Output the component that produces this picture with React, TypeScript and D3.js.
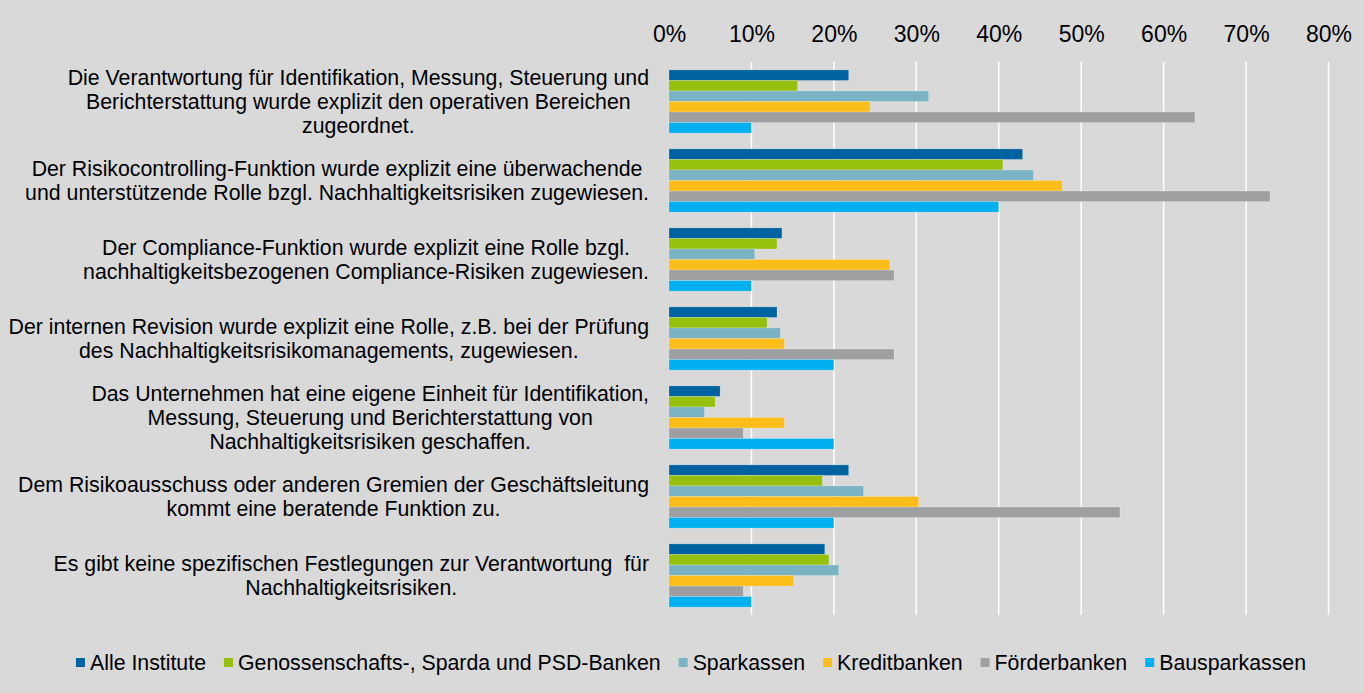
import React, { useEffect, useRef } from 'react';
import { axisTop, scaleBand, scaleLinear, select } from 'd3';

const categoryLines: string[][] = [
  ['Die Verantwortung für Identifikation, Messung, Steuerung und', 'Berichterstattung wurde explizit den operativen Bereichen', 'zugeordnet.'],
  ['Der Risikocontrolling-Funktion wurde explizit eine überwachende', 'und unterstützende Rolle bzgl. Nachhaltigkeitsrisiken zugewiesen.'],
  ['Der Compliance-Funktion wurde explizit eine Rolle bzgl.', 'nachhaltigkeitsbezogenen Compliance-Risiken zugewiesen.'],
  ['Der internen Revision wurde explizit eine Rolle, z.B. bei der Prüfung', 'des Nachhaltigkeitsrisikomanagements, zugewiesen.'],
  ['Das Unternehmen hat eine eigene Einheit für Identifikation,', 'Messung, Steuerung und Berichterstattung von', 'Nachhaltigkeitsrisiken geschaffen.'],
  ['Dem Risikoausschuss oder anderen Gremien der Geschäftsleitung', 'kommt eine beratende Funktion zu.'],
  ['Es gibt keine spezifischen Festlegungen zur Verantwortung  für', 'Nachhaltigkeitsrisiken.'],
];

const seriesNames = [
  'Alle Institute',
  'Genossenschafts-, Sparda und PSD-Banken',
  'Sparkassen',
  'Kreditbanken',
  'Förderbanken',
  'Bausparkassen',
];
const seriesColors = ['#0063a1', '#97bf0d', '#7ab3c3', '#fbbd19', '#9d9fa1', '#00b0f0'];

// values per series, in category order (share of institutions)
const alleInstitute = [0.218, 0.429, 0.137, 0.131, 0.062, 0.218, 0.189];
const genossenschaften = [0.156, 0.405, 0.131, 0.119, 0.056, 0.186, 0.194];
const sparkassen = [0.315, 0.442, 0.104, 0.135, 0.043, 0.236, 0.206];
const kreditbanken = [0.244, 0.477, 0.268, 0.14, 0.14, 0.303, 0.151];
const foerderbanken = [0.638, 0.729, 0.273, 0.273, 0.09, 0.547, 0.09];
const bausparkassen = [0.1, 0.4, 0.1, 0.2, 0.2, 0.2, 0.1];
const seriesValues = [alleInstitute, genossenschaften, sparkassen, kreditbanken, foerderbanken, bausparkassen];

const tickValues = [0, 0.1, 0.2, 0.3, 0.4, 0.5, 0.6, 0.7, 0.8];

const W = 1364;
const H = 693;
const font = '"Liberation Sans", Arial, sans-serif';

const App = () => {
  const ref = useRef<SVGSVGElement>(null);

  useEffect(() => {
    document.body.style.margin = '0';
    const svg = select(ref.current);
    svg.selectAll('*').remove();

    svg.append('rect').attr('width', W).attr('height', H).attr('fill', '#d9d9d9');

    const x = scaleLinear().domain([0, 0.8]).range([669, 1328.5]);
    const y = scaleBand<number>()
      .domain(categoryLines.map((_, i) => i))
      .range([62, 615])
      .paddingInner(0.2)
      .paddingOuter(0.1);
    const inner = scaleBand<number>()
      .domain(seriesNames.map((_, i) => i))
      .range([0, y.bandwidth()]);

    // gridlines
    svg.append('g')
      .selectAll('line')
      .data(tickValues.slice(1))
      .enter()
      .append('line')
      .attr('x1', (d) => x(d))
      .attr('x2', (d) => x(d))
      .attr('y1', 62)
      .attr('y2', 615)
      .attr('stroke', '#ffffff')
      .attr('stroke-width', 1.5);

    // top axis labels
    const axis = svg.append('g')
      .attr('transform', 'translate(0,42)')
      .call(axisTop(x).tickValues(tickValues).tickFormat((d) => `${Math.round(+d * 100)}%`).tickSize(0).tickPadding(0));
    axis.select('.domain').remove();
    axis.selectAll('text')
      .attr('font-family', font)
      .attr('font-size', 23)
      .attr('fill', '#000');

    // bars
    const groups = svg.append('g')
      .selectAll('g')
      .data(categoryLines.map((_, i) => i))
      .enter()
      .append('g')
      .attr('transform', (i) => `translate(0,${y(i)})`);

    groups.selectAll('rect')
      .data((i) => seriesValues.map((vals, s) => ({ s, v: vals[i] })))
      .enter()
      .append('rect')
      .attr('x', x(0))
      .attr('y', (d) => inner(d.s) as number)
      .attr('width', (d) => x(d.v) - x(0))
      .attr('height', inner.bandwidth())
      .attr('fill', (d) => seriesColors[d.s])
      .attr('stroke', 'rgba(255,255,255,0.35)')
      .attr('stroke-width', 0.6);

    // category labels: block right-aligned next to the bars, lines centred inside it
    const lineH = 24;
    const labelRight = 649;
    groups.append('text')
      .attr('font-family', font)
      .attr('font-size', 21.3)
      .attr('fill', '#000')
      .attr('text-anchor', 'middle')
      .style('white-space', 'pre')
      .each(function (i) {
        const lines = categoryLines[i];
        const cy = y.bandwidth() / 2;
        const t = select(this);
        const spans = lines.map((ln, k) => t.append('tspan')
          .attr('y', cy + (k - (lines.length - 1) / 2) * lineH)
          .attr('dy', '0.35em')
          .text(ln));
        const maxW = Math.max(...spans.map((s) => (s.node() as SVGTSpanElement).getComputedTextLength()));
        spans.forEach((s) => s.attr('x', labelRight - maxW / 2));
      });

    // legend
    const legend = svg.append('g').attr('transform', 'translate(0,663)');
    const items = legend.selectAll('g')
      .data(seriesNames)
      .enter()
      .append('g');
    items.append('rect')
      .attr('y', -5)
      .attr('width', 9)
      .attr('height', 9)
      .attr('fill', (_, i) => seriesColors[i]);
    items.append('text')
      .attr('x', 14)
      .attr('dy', '0.35em')
      .attr('font-family', font)
      .attr('font-size', 21.3)
      .attr('fill', '#000')
      .text((d) => d);
    const widths: number[] = [];
    items.selectAll('text').each(function () {
      widths.push((this as SVGTextElement).getComputedTextLength());
    });
    const gap = 18;
    const total = widths.reduce((a, w) => a + 14 + w, 0) + gap * (widths.length - 1);
    let cx = 691 - total / 2;
    items.attr('transform', (_, i) => {
      const tx = cx;
      cx += 14 + widths[i] + gap;
      return `translate(${tx},0)`;
    });
  }, []);

  return <svg ref={ref} width={W} height={H} style={{ display: 'block' }} />;
};

export default App;
